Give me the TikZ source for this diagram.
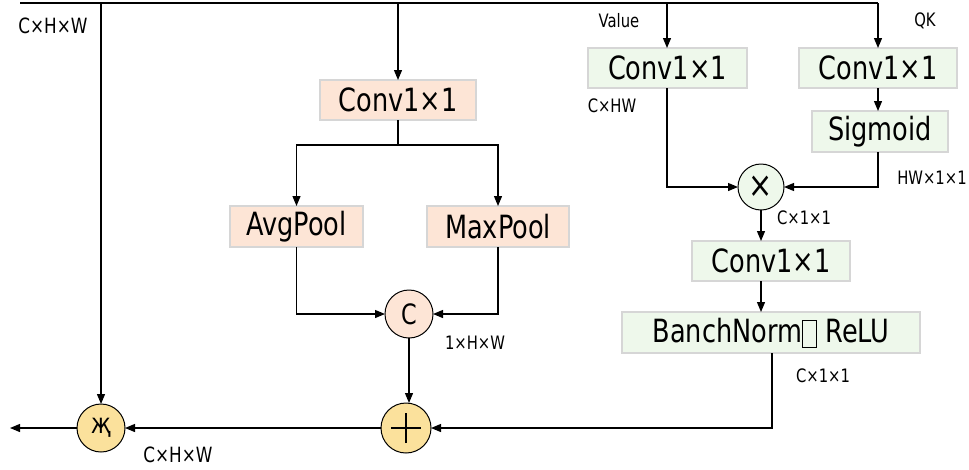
\documentclass[tikz,border=0pt]{standalone}
\usepackage{fontspec}
\setmainfont{DejaVu Sans}[FakeStretch=0.8]
\usetikzlibrary{arrows.meta}
\definecolor{peach}{HTML}{FDE5D6}
\definecolor{mint}{HTML}{EEF8EB}
\definecolor{gold}{HTML}{FBE19C}
\definecolor{edge}{HTML}{D6D6D6}
\newcommand\tofubox{\begingroup\fboxsep=0pt\fboxrule=0.8pt\raisebox{-0.14em}{\fbox{\rule{0pt}{0.8em}\hspace{0.42em}}}\endgroup}
\begin{document}
\begin{tikzpicture}[x=1pt,y=-1pt,
  every node/.style={inner sep=0pt,outer sep=0pt},
  box/.style={draw=edge,line width=1.4pt,font=\fontsize{32}{34}\selectfont,minimum height=40pt},
  obox/.style={box,fill=peach},
  gbox/.style={box,fill=mint},
  op/.style={circle,draw=black,line width=1pt,minimum size=#1},
  lab/.style={font=\fontsize{18.5}{20}\selectfont},
  blab/.style={font=\fontsize{21}{23}\selectfont},
  wire/.style={line width=1.2pt},
  arr/.style={wire,-{Triangle[length=10pt,width=8pt]}}]
\useasboundingbox (0,0) rectangle (969,469);
% nodes
\node[obox,minimum width=156pt] (conv) at (398,100) {Conv1×1};
\node[obox,minimum width=133pt,minimum height=41pt] (avg) at (296.5,226.5) {AvgPool};
\node[obox,minimum width=142pt,minimum height=41pt] (max) at (498,226.5) {MaxPool};
\node[op=48pt,fill=peach,font=\fontsize{28}{30}\selectfont] (cc) at (409,314) {C};
\node[op=50pt,fill=gold,path picture={\draw[line width=1.3pt] ([xshift=-15pt]path picture bounding box.center) -- ([xshift=15pt]path picture bounding box.center) ([yshift=-15pt]path picture bounding box.center) -- ([yshift=15pt]path picture bounding box.center);}] (plus) at (406,428) {};
\node[op=48pt,fill=gold,font=\fontsize{28}{30}\selectfont] (mul) at (101,428) {җ};
\node[gbox,minimum width=159pt] (val) at (667.5,68) {Conv1×1};
\node[gbox,minimum width=158pt] (qk) at (878,68) {Conv1×1};
\node[gbox,minimum width=136pt,minimum height=41pt] (sig) at (880,131.5) {Sigmoid};
\node[op=46pt,fill=mint,font=\fontsize{36}{38}\selectfont] (times) at (761,187) {×};
\node[gbox,minimum width=158pt] (conv2) at (771,261) {Conv1×1};
\node[gbox,minimum width=298pt,minimum height=41pt] (bn) at (771,332.5) {BanchNorm\tofubox{} ReLU};
% coordinates
\coordinate (t0) at (20,3);
\coordinate (tA) at (101,3);
\coordinate (tB) at (398,3);
\coordinate (tC) at (667,3);
\coordinate (tD) at (878,3);
\coordinate (split) at (398,145);
\coordinate (out) at (10,428);
% wires
\draw[wire] (t0) -- (tD);
\draw[arr] (tA) -- (mul.north);
\draw[arr] (tB) -- (conv.north);
\draw[arr] (tC) -- (tC |- val.north);
\draw[arr] (tD) -- (qk.north);
\draw[wire] (conv.south) -- (split);
\draw[arr] (split) -| (avg.north);
\draw[arr] (split) -| (max.north);
\draw[arr] (avg.south) |- (cc.west);
\draw[arr] (max.south) |- (cc.east);
\draw[arr] (cc.south) -- (cc.south |- plus.north);
\draw[arr] (plus.west) -- (mul.east);
\draw[arr] (mul.west) -- (out);
\draw[arr] (qk.south) -- (qk.south |- sig.north);
\draw[arr] (tC |- val.south) |- (times.west);
\draw[arr] (qk.south |- sig.south) |- (times.east);
\draw[arr] (times.south) -- (times.south |- conv2.north);
\draw[arr] (times.south |- conv2.south) -- (times.south |- bn.north);
\draw[arr] ([xshift=1pt]bn.south) |- (plus.east);
% labels
\node[blab] (l1) at (53,26) {C×H×W};
\node[lab] (l2) at (619,21) {Value};
\node[lab] (l3) at (925,21) {QK};
\node[lab] (l4) at (612,106) {C×HW};
\node[lab] (l5) at (932,178) {HW×1×1};
\node[lab] (l6) at (804,218) {C×1×1};
\node[lab] (l7) at (475,343) {1×H×W};
\node[lab] (l8) at (823,376) {C×1×1};
\node[blab] (l9) at (178,455) {C×H×W};
\end{tikzpicture}
\end{document}
